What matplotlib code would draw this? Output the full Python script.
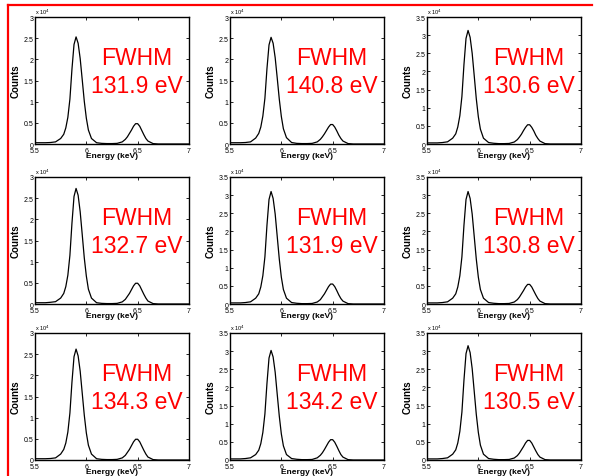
import matplotlib.pyplot as plt
from matplotlib.lines import Line2D
from matplotlib.ticker import FormatStrFormatter, MultipleLocator

plt.rcParams['font.family'] = ['Liberation Sans', 'DejaVu Sans']

# energy grid (keV), shared by all nine spectra
energy = [5.50, 5.55, 5.60, 5.65, 5.70, 5.75, 5.78, 5.80, 5.82, 5.84, 5.86, 5.88,
          5.90, 5.92, 5.94, 5.96, 5.98, 6.00, 6.02, 6.05, 6.10, 6.15, 6.20, 6.25,
          6.30, 6.35, 6.38, 6.40, 6.42, 6.44, 6.46, 6.48, 6.50, 6.52, 6.54, 6.56,
          6.58, 6.60, 6.65, 6.70, 6.80, 6.90, 7.00]

# counts in units of 1e4 (row by row)
counts_1 = [0.03, 0.03, 0.03, 0.035, 0.05, 0.13, 0.23, 0.38, 0.63, 1.06, 1.77, 2.35,
            2.53, 2.38, 2.02, 1.52, 1.01, 0.61, 0.33, 0.13, 0.03, 0.015, 0.01, 0.01,
            0.015, 0.05, 0.11, 0.17, 0.25, 0.33, 0.42, 0.48, 0.48, 0.42, 0.32, 0.22,
            0.13, 0.07, 0.01, 0, 0, 0, 0]
counts_2 = [0.03, 0.03, 0.03, 0.035, 0.05, 0.14, 0.25, 0.40, 0.66, 1.08, 1.78, 2.34,
            2.52, 2.38, 2.04, 1.56, 1.06, 0.65, 0.36, 0.15, 0.035, 0.015, 0.01, 0.01,
            0.015, 0.05, 0.11, 0.17, 0.24, 0.32, 0.40, 0.46, 0.46, 0.40, 0.31, 0.21,
            0.13, 0.07, 0.01, 0, 0, 0, 0]
counts_3 = [0.03, 0.03, 0.03, 0.04, 0.06, 0.16, 0.28, 0.47, 0.78, 1.31, 2.19, 2.91,
            3.13, 2.94, 2.50, 1.88, 1.25, 0.75, 0.41, 0.16, 0.04, 0.02, 0.01, 0.01,
            0.015, 0.055, 0.12, 0.19, 0.27, 0.37, 0.46, 0.53, 0.53, 0.46, 0.36, 0.24,
            0.15, 0.08, 0.01, 0, 0, 0, 0]
counts_4 = [0.03, 0.03, 0.03, 0.04, 0.055, 0.14, 0.25, 0.41, 0.68, 1.15, 1.91, 2.54,
            2.73, 2.57, 2.18, 1.64, 1.09, 0.66, 0.35, 0.14, 0.03, 0.015, 0.01, 0.01,
            0.015, 0.05, 0.11, 0.18, 0.25, 0.34, 0.43, 0.49, 0.49, 0.43, 0.33, 0.23,
            0.14, 0.07, 0.01, 0, 0, 0, 0]
counts_5 = [0.03, 0.03, 0.03, 0.04, 0.06, 0.16, 0.28, 0.47, 0.78, 1.30, 2.17, 2.88,
            3.10, 2.91, 2.48, 1.86, 1.24, 0.74, 0.40, 0.16, 0.04, 0.02, 0.01, 0.01,
            0.015, 0.055, 0.12, 0.20, 0.28, 0.38, 0.48, 0.55, 0.55, 0.48, 0.37, 0.25,
            0.15, 0.08, 0.01, 0, 0, 0, 0]
counts_6 = [0.03, 0.03, 0.03, 0.04, 0.06, 0.16, 0.28, 0.47, 0.78, 1.30, 2.17, 2.88,
            3.10, 2.91, 2.48, 1.86, 1.24, 0.74, 0.40, 0.16, 0.04, 0.02, 0.01, 0.01,
            0.015, 0.055, 0.12, 0.19, 0.28, 0.37, 0.47, 0.54, 0.54, 0.47, 0.36, 0.25,
            0.15, 0.08, 0.01, 0, 0, 0, 0]
counts_7 = [0.03, 0.03, 0.03, 0.035, 0.05, 0.14, 0.25, 0.40, 0.66, 1.11, 1.84, 2.44,
            2.62, 2.46, 2.10, 1.58, 1.06, 0.64, 0.35, 0.14, 0.03, 0.015, 0.01, 0.01,
            0.015, 0.05, 0.11, 0.18, 0.25, 0.34, 0.43, 0.49, 0.49, 0.43, 0.33, 0.23,
            0.14, 0.07, 0.01, 0, 0, 0, 0]
counts_8 = [0.03, 0.03, 0.03, 0.04, 0.06, 0.15, 0.27, 0.45, 0.76, 1.27, 2.11, 2.81,
            3.02, 2.84, 2.42, 1.81, 1.21, 0.72, 0.39, 0.15, 0.04, 0.02, 0.01, 0.01,
            0.015, 0.06, 0.13, 0.20, 0.29, 0.39, 0.49, 0.56, 0.56, 0.49, 0.38, 0.26,
            0.15, 0.08, 0.01, 0, 0, 0, 0]
counts_9 = [0.03, 0.03, 0.03, 0.04, 0.06, 0.16, 0.28, 0.47, 0.79, 1.32, 2.20, 2.93,
            3.15, 2.96, 2.52, 1.89, 1.26, 0.76, 0.41, 0.16, 0.04, 0.02, 0.01, 0.01,
            0.015, 0.055, 0.12, 0.19, 0.28, 0.37, 0.47, 0.54, 0.54, 0.47, 0.36, 0.25,
            0.15, 0.08, 0.01, 0, 0, 0, 0]

spectra = [counts_1, counts_2, counts_3, counts_4, counts_5,
           counts_6, counts_7, counts_8, counts_9]
fwhm = ['131.9', '140.8', '130.6', '132.7', '131.9', '130.8', '134.3', '134.2', '130.5']
ymax = [3, 3, 3.5, 3, 3.5, 3.5, 3, 3.5, 3.5]

fig = plt.figure(figsize=(5.94, 4.77), dpi=100)

lefts = [35, 230, 427]
tops = [18, 178, 334]
W, H = 594.0, 477.0
aw, ah = 154, 127

for i in range(9):
    r, c = divmod(i, 3)
    ax = fig.add_axes([lefts[c] / W, 1 - (tops[r] + ah) / H, aw / W, ah / H])
    ax.plot(energy, spectra[i], color='black', lw=0.9)
    ax.set_xlim(5.5, 7)
    ax.set_ylim(0, ymax[i])
    ax.set_xticks([5.5, 6, 6.5, 7])
    ax.yaxis.set_major_locator(MultipleLocator(0.5))
    ax.xaxis.set_major_formatter(FormatStrFormatter('%g'))
    ax.yaxis.set_major_formatter(FormatStrFormatter('%g'))
    ax.tick_params(direction='in', length=2.5, width=0.6, labelsize=5, pad=1,
                   top=True, right=True)
    ax.tick_params(axis='x', pad=2)
    for s in ax.spines.values():
        s.set_linewidth(1.0)
    ax.text(0, 1.01, r'x 10$^4$', transform=ax.transAxes, fontsize=4, va='bottom')
    ax.set_xlabel('Energy (keV)', fontsize=6, fontweight='bold', labelpad=-1)
    ax.set_ylabel('Counts', fontsize=7, fontweight='bold', labelpad=2)
    ax.text(0.66, 0.68, 'FWHM', transform=ax.transAxes, color='red',
            fontsize=16.5, ha='center', va='center')
    ax.text(0.66, 0.46, fwhm[i] + ' eV', transform=ax.transAxes, color='red',
            fontsize=16.5, ha='center', va='center')

# red frame (top and left edges)
fig.add_artist(Line2D([8 / W, 592 / W], [1 - 6 / H, 1 - 6 / H], color='red', lw=1.6))
fig.add_artist(Line2D([8 / W, 8 / W], [0, 1 - 6 / H], color='red', lw=1.6))

fig.savefig('out.png', dpi=100)
